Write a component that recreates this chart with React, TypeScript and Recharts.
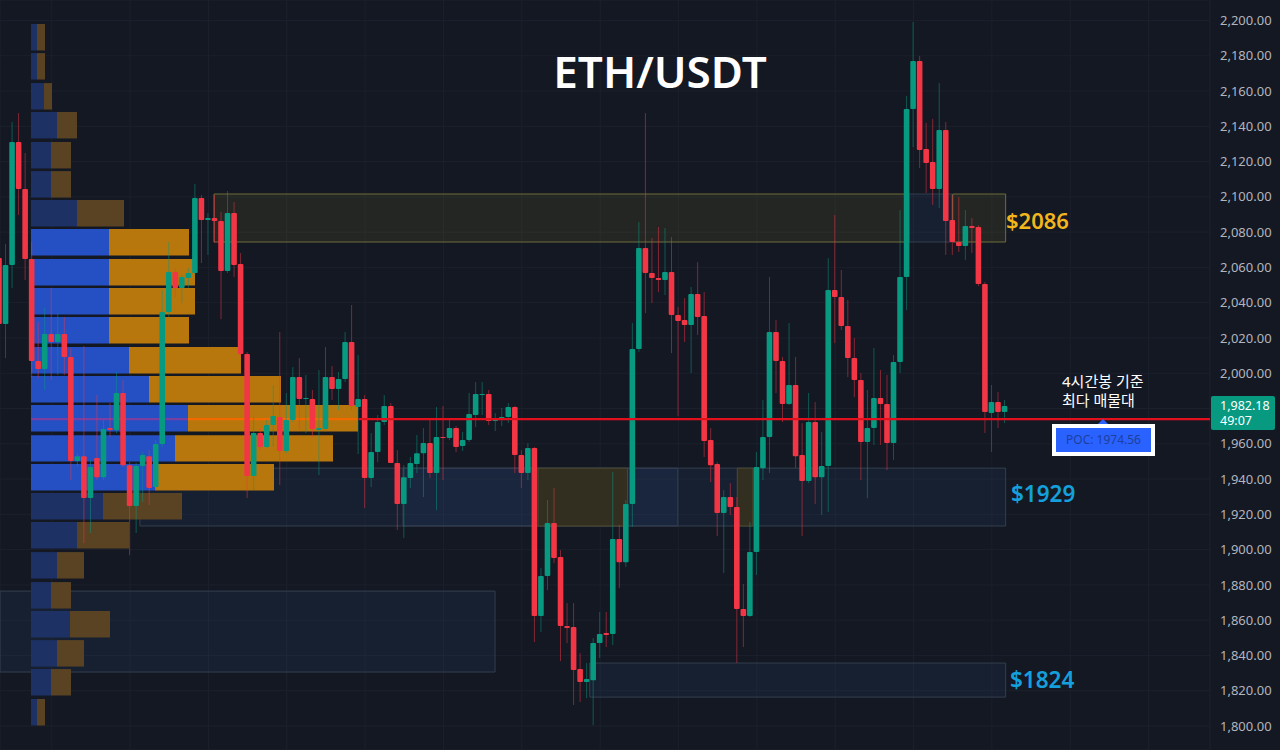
import { Bar, CartesianGrid, ComposedChart, ReferenceArea, ReferenceLine, XAxis, YAxis } from 'recharts';

const opens = [
  2065.3, 2027.9, 2061.3, 2131.1, 2104.4, 2064.7, 2006.9, 2002.4, 2022.2, 2017.7,
  2022.2, 2009.2, 1950.2, 1953, 1929.2, 1951.9, 1941.1, 1968.9, 1967.8, 1988.8,
  1947.9, 1924.7, 1947.4, 1953, 1935.5, 1959.9, 2034.7, 2057.4, 2048.3, 2054,
  2056.8, 2099.3, 2086.9, 2088, 2086.3, 2057.9, 2090.8, 2061.9, 2010.9, 1941.7,
  1966.1, 1958.2, 1970.6, 1975.2, 1955.9, 1973.5, 1997.8, 1985.4, 1985.4, 1967.8,
  1968.4, 1997.8, 1991, 1996.7, 2017.7, 1980.8, 1985.4, 1940.6, 1955.3, 1972.3,
  1981.4, 1949.1, 1925.8, 1940.6, 1948.5, 1954.7, 1960.4, 1943.4, 1963.8, 1963.3,
  1968.9, 1958.7, 1962.1, 1976.3, 1987.6, 1988.2, 1972.9, 1974.6, 1975.2, 1980.8,
  1953.6, 1943.4, 1957.6, 1862.3, 1885, 1915.1, 1895.8, 1856.7, 1856.1, 1832.3,
  1824.9, 1826, 1847, 1852.7, 1852.1, 1906, 1892.9, 1925.8, 2013.7, 2071,
  2056.8, 2054, 2052.8, 2057.4, 2033, 2030.2, 2027.3, 2044.9, 2032.4, 1962.1,
  1948.5, 1920.7, 1929.8, 1924.1, 1866.3, 1862.3, 1898.6, 1946.2, 1963.8, 2023.4,
  2006.9, 1982.5, 1993.3, 1953.6, 1938.9, 1972.3, 1941.1, 1947.4, 2047.2, 2043.2,
  2026.8, 2008.6, 1996.1, 1961, 1968.9, 1985.9, 1982.5, 1960.4, 2006.3, 2054.5,
  2149.8, 2177, 2127.1, 2119.8, 2104.4, 2137.9, 2086.9, 2074.4, 2072.1, 2083.5,
  2082.9, 2050.6, 1977.4, 1983.7, 1978,
];
const closes = [
  2027.9, 2061.3, 2131.1, 2104.4, 2064.7, 2006.9, 2002.4, 2022.2, 2017.7, 2022.2,
  2009.2, 1950.2, 1953, 1929.2, 1946.8, 1941.1, 1968.4, 1967.8, 1988.8, 1947.9,
  1924.7, 1947.4, 1953.6, 1934.9, 1959.9, 2034.7, 2057.4, 2048.3, 2054.5, 2056.8,
  2099.3, 2086.9, 2088, 2086.3, 2057.9, 2090.8, 2061.3, 2010.9, 1941.7, 1966.1,
  1958.2, 1970.6, 1975.7, 1955.9, 1973.5, 1997.8, 1985.4, 1985.9, 1968.4, 1968.9,
  1997.8, 1991, 1996.7, 2017.7, 1981.4, 1985.4, 1940.6, 1955.3, 1972.3, 1981.4,
  1949.1, 1925.8, 1941.1, 1949.1, 1954.7, 1960.4, 1943.4, 1963.8, 1963.3, 1968.9,
  1958.2, 1962.1, 1976.9, 1988.2, 1988.2, 1972.9, 1974.6, 1975.2, 1980.8, 1953.6,
  1943.4, 1957.6, 1862.3, 1885, 1915.1, 1895.2, 1856.7, 1855.5, 1831.7, 1824.9,
  1826.6, 1847, 1852.1, 1851.6, 1906, 1892.9, 1925.8, 2013.7, 2071, 2056.8,
  2054, 2052.8, 2057.4, 2033, 2029.6, 2027.3, 2044.9, 2031.9, 1961.6, 1947.9,
  1920.7, 1929.8, 1924.1, 1866.3, 1862.3, 1898.6, 1946.8, 1963.8, 2023.4, 2006.9,
  1982.5, 1993.3, 1953, 1938.9, 1972.3, 1941.1, 1947.4, 2047.2, 2043.2, 2026.8,
  2008.6, 1996.1, 1961, 1968.9, 1985.9, 1982.5, 1960.4, 2006.3, 2054.5, 2149.8,
  2177, 2126.6, 2119.2, 2104.4, 2137.9, 2086.3, 2074.4, 2072.1, 2083.5, 2082.3,
  2050.6, 1978, 1983.7, 1978, 1981.4,
];
const highs = [
  2069.9, 2073.3, 2142.4, 2147.5, 2124.8, 2074.4, 2029, 2037, 2048.3, 2034.1,
  2031.9, 2014.3, 1954.7, 2015.4, 1950.8, 1987.6, 1973.5, 1983.1, 2000.7, 1996.1,
  1949.6, 1949.1, 1955.3, 1956.4, 1962.1, 2047.2, 2074.4, 2059.6, 2055.7, 2059.6,
  2107.3, 2101, 2090.8, 2101, 2091.4, 2103.3, 2097.1, 2068.1, 2012, 1975.2,
  1968.9, 1973.5, 1993.3, 2023.4, 1988.8, 2003.5, 2008.6, 1999, 1990.5, 2001.8,
  2014.9, 2004.1, 2000.7, 2023.4, 2038.7, 2010.3, 1987.6, 1966.1, 1976.3, 1987.6,
  1983.1, 1956.4, 1947.9, 1952.5, 1965, 1968.9, 1973.5, 1980.8, 1981.4, 1974.6,
  1970.1, 1966.7, 1988.8, 1995, 1995, 1990.5, 1977.4, 1980.3, 1983.1, 1981.4,
  1956.4, 1960.4, 1958.2, 1889.5, 1928.1, 1934.9, 1899.7, 1869.7, 1869.7, 1841.3,
  1835.7, 1849.9, 1864.6, 1864.6, 1944, 1913.9, 1928.1, 2028.5, 2085.7, 2147.5,
  2076.7, 2082.9, 2082.3, 2077.2, 2037.5, 2042.6, 2048.9, 2063, 2046, 1968.9,
  1949.6, 1933.8, 1937.7, 1929.8, 1880.5, 1915.6, 1955.3, 1984.8, 2054.5, 2030.2,
  2009.2, 2028.5, 2009.2, 1971.7, 1988.8, 1983.7, 1966.7, 2065.3, 2089.7, 2058.5,
  2041.5, 2020, 2000.1, 1990.5, 2014.3, 2001.8, 1999, 2010.3, 2092.5, 2157.2,
  2199.1, 2179.8, 2141.9, 2144.1, 2164.5, 2142.4, 2101, 2099.9, 2092.5, 2088,
  2084, 2051.7, 1993.3, 1989.3, 1984.8,
];
const lows = [
  2024.5, 2008.6, 2048.3, 2089.7, 2052.8, 1997.8, 1997.3, 1990.5, 1996.1, 1999,
  1999, 1939.4, 1946.8, 1903.7, 1909.4, 1939.4, 1939.4, 1963.8, 1966.1, 1946.8,
  1896.9, 1909.4, 1927, 1925.3, 1933.8, 1958.2, 2031.9, 2043.2, 2039.8, 2048.3,
  2055.7, 2062.5, 2067, 2073.8, 2030.7, 2056.8, 2054.5, 2009.2, 1929.2, 1933.8,
  1956.4, 1957.6, 1958.2, 1936.6, 1954.7, 1972.3, 1967.8, 1966.1, 1963.8, 1942.3,
  1966.7, 1984.8, 1979.1, 1995, 1979.1, 1954.2, 1923.6, 1935.5, 1949.6, 1970.6,
  1949.1, 1911.1, 1906.6, 1934.9, 1943.4, 1929.8, 1940.6, 1922.4, 1939.4, 1962.1,
  1955.3, 1955.9, 1961, 1969.5, 1976.3, 1970.6, 1967.2, 1970.1, 1971.8, 1943.4,
  1934.9, 1939.4, 1847.6, 1853.3, 1877.1, 1892.4, 1836.8, 1847, 1811.9, 1813.6,
  1815.8, 1800.5, 1838.5, 1844.8, 1845.9, 1878.2, 1890.1, 1912.8, 2012, 2034.1,
  2039.8, 2046, 2044.3, 2011.4, 1975.7, 2017.7, 2000.1, 2021.7, 1952.5, 1938.3,
  1907.7, 1886.7, 1919.6, 1835.7, 1844.8, 1861.8, 1885.6, 1939.4, 1943.4, 1988.8,
  1972.3, 1982, 1946.2, 1907.7, 1937.7, 1925.8, 1919.6, 1921.3, 2017.1, 2024.5,
  1997.8, 1986.5, 1939.4, 1929.2, 1959.3, 1959.3, 1945.1, 1950.8, 2000.1, 2035.8,
  2128.2, 2116.3, 2102.2, 2095.4, 2093.7, 2067, 2067, 2068.7, 2064.2, 2068.1,
  2049.4, 1966.1, 1955.3, 1968.9, 1971.8,
];

// volume profile, one row per price bucket
const volRowTops = [
  2198, 2181.5, 2164.5, 2148.1, 2131.1, 2114.6, 2098.2, 2081.8, 2064.7, 2048.3, 2031.9, 2014.9,
  1998.4, 1982, 1964.9, 1948.5, 1932.1, 1915.6, 1898.6, 1881.6, 1865.2, 1848.7, 1832.3, 1815.3,
];
const volBuy = [6, 6, 13, 26, 20, 20, 46, 78, 78, 78, 78, 98, 118, 157, 144, 124, 72, 46, 26, 20, 39, 26, 20, 6];
const volSell = [8, 8, 8, 20, 20, 20, 47, 80, 86, 86, 80, 112, 132, 170, 158, 119, 79, 52, 27, 20, 40, 27, 20, 8];
const valueAreaRows = [7, 8, 9, 10, 11, 12, 13, 14, 15];
const pocRow = 13;
const pocPrice = 1974;
const lastIndex = 185.4;

const priceTicks = [
  1800, 1820, 1840, 1860, 1880, 1900, 1920, 1940, 1960, 1980, 2000, 2020, 2040, 2060, 2080, 2100, 2120, 2140,
  2160, 2180, 2200,
];
const timeTicks = [8, 20, 32, 44, 56, 68, 80, 92, 104, 116, 128, 140, 152, 164, 176];

const candles = opens.map((open, i) => ({ i, open, close: closes[i], high: highs[i], low: lows[i] }));

// 1,980.00 sits behind the last price tag, so it gets no label
const formatPrice = (v: number) =>
  v === 1980 ? '' : v.toLocaleString('en-US', { minimumFractionDigits: 2, maximumFractionDigits: 2 });

const Candle = ({ x, y, width, height, payload }: any) => {
  const { open, close, high, low } = payload;
  const up = close >= open;
  const color = up ? '#089981' : '#f23645';
  const pxPerUsd = height / (high - low);
  const top = y + (high - Math.max(open, close)) * pxPerUsd;
  const bodyH = Math.max(Math.abs(open - close) * pxPerUsd, 1);
  const cx = x + width / 2;
  return (
    <g>
      <line x1={cx} x2={cx} y1={y} y2={y + height} stroke={color} strokeWidth={1} strokeOpacity={0.5} />
      <rect x={x} y={top} width={width} height={bodyH} rx={1} fill={color} />
    </g>
  );
};

const yellowBox = { fill: '#8a7f2a', fillOpacity: 0.14, stroke: '#6f6d38', strokeOpacity: 1, strokeWidth: 1 };
const yellowInset = { fill: '#332f20', fillOpacity: 1, stroke: '#4c4a30', strokeOpacity: 1, strokeWidth: 1 };
const blueBox = { fill: '#2b4a7a', fillOpacity: 0.16, stroke: '#343f4e', strokeOpacity: 1, strokeWidth: 1 };

export default function App() {
  return (
    <div style={{ position: 'fixed', left: 0, top: 0, width: 1280, height: 750, background: '#141823', overflow: 'hidden', fontFamily: '"Noto Sans", "Noto Sans CJK KR", sans-serif' }}>
      <ComposedChart width={1280} height={750} data={candles} margin={{ top: 0, right: 0, bottom: 0, left: 0 }}>
        <CartesianGrid xAxisId="idx" yAxisId="price" stroke="#1b202c" strokeWidth={1} />
        <XAxis xAxisId="idx" dataKey="i" type="number" domain={[0.08, lastIndex]} allowDataOverflow ticks={timeTicks} hide />
        <XAxis xAxisId="vol" dataKey={() => 0} type="number" domain={[-31, 1179]} allowDataOverflow hide />
        <YAxis
          yAxisId="price"
          orientation="right"
          width={70}
          type="number"
          domain={[1786.4, 2211.6]}
          allowDataOverflow
          ticks={priceTicks}
          interval={0}
          tickFormatter={formatPrice}
          axisLine={false}
          tickLine={false}
          tickSize={0}
          tickMargin={10}
          tick={{ fill: '#b2b5be', fontSize: 13, textAnchor: 'start' }}
        />

        {/* supply and demand zones */}
        <ReferenceArea xAxisId="idx" yAxisId="price" x1={21.5} x2={154.1} y1={1913.4} y2={1946.2} {...blueBox} />
        <ReferenceArea xAxisId="idx" yAxisId="price" x1={61.8} x2={103.9} y1={1913.4} y2={1946.2} {...blueBox} />
        <ReferenceArea xAxisId="idx" yAxisId="price" x1={82.5} x2={96.2} y1={1913.4} y2={1946.2} {...yellowInset} />
        <ReferenceArea xAxisId="idx" yAxisId="price" x1={113} x2={115.4} y1={1913.4} y2={1946.2} {...yellowInset} />
        <ReferenceArea xAxisId="idx" yAxisId="price" x1={32.85} x2={138.7} y1={2074.4} y2={2101.6} {...yellowBox} />
        <ReferenceArea xAxisId="idx" yAxisId="price" x1={139.3} x2={145.9} y1={2074.4} y2={2101.6} {...blueBox} />
        <ReferenceArea xAxisId="idx" yAxisId="price" x1={146} x2={154.1} y1={2074.4} y2={2101.6} {...yellowBox} />
        <ReferenceArea xAxisId="idx" yAxisId="price" x1={90.4} x2={154.1} y1={1816.4} y2={1835.7} {...blueBox} />
        <ReferenceArea xAxisId="idx" yAxisId="price" x1={0.08} x2={75.9} y1={1830.6} y2={1876.5} {...blueBox} />

        {/* volume profile */}
        {volRowTops.map((top, r) => {
          const inValueArea = valueAreaRows.includes(r);
          return [
            <ReferenceArea
              key={`b${r}`}
              xAxisId="vol"
              yAxisId="price"
              x1={0}
              x2={volBuy[r]}
              y1={top - 15}
              y2={top}
              fill={inValueArea ? '#2450c4' : '#1e3165'}
              fillOpacity={1}
            />,
            <ReferenceArea
              key={`s${r}`}
              xAxisId="vol"
              yAxisId="price"
              x1={volBuy[r]}
              x2={volBuy[r] + volSell[r]}
              y1={top - 15}
              y2={top}
              fill={inValueArea ? '#b8770c' : '#5a4323'}
              fillOpacity={1}
            />,
          ];
        })}
        <ReferenceArea
          xAxisId="vol"
          yAxisId="price"
          x1={0}
          x2={volBuy[pocRow]}
          y1={pocPrice - 0.6}
          y2={pocPrice + 0.6}
          fill="#7a3fa0"
          fillOpacity={1}
        />
        <ReferenceArea
          xAxisId="vol"
          yAxisId="price"
          x1={volBuy[pocRow]}
          x2={volBuy[pocRow] + volSell[pocRow]}
          y1={pocPrice - 0.6}
          y2={pocPrice + 0.6}
          fill="#f06a00"
          fillOpacity={1}
        />
        <ReferenceLine
          xAxisId="idx"
          yAxisId="price"
          segment={[{ x: 55, y: pocPrice }, { x: lastIndex, y: pocPrice }]}
          stroke="#e2101c"
          strokeWidth={2.4}
        />

        <Bar
          xAxisId="idx"
          yAxisId="price"
          dataKey={(d: any) => [d.low, d.high]}
          barSize={5.6}
          shape={<Candle />}
          isAnimationActive={false}
        />
      </ComposedChart>

      <div style={{ position: 'absolute', left: 460, width: 400, top: 41, textAlign: 'center', color: '#fff', fontSize: 44, fontWeight: 600, lineHeight: '60px' }}>
        ETH/USDT
      </div>
      <div style={{ position: 'absolute', left: 1006, top: 203, color: '#f2b51c', fontSize: 22, fontWeight: 600, lineHeight: '34px' }}>$2086</div>
      <div style={{ position: 'absolute', left: 1011, top: 477, color: '#14a0dc', fontSize: 22.5, fontWeight: 600, lineHeight: '34px' }}>$1929</div>
      <div style={{ position: 'absolute', left: 1010, top: 663, color: '#14a0dc', fontSize: 22.5, fontWeight: 600, lineHeight: '34px' }}>$1824</div>
      <div style={{ position: 'absolute', left: 1062, top: 372, color: '#fff', fontSize: 15, lineHeight: '19px', whiteSpace: 'nowrap' }}>
        4시간봉 기준
        <br />
        최다 매물대
      </div>
      <div style={{ position: 'absolute', left: 1097, top: 419, width: 0, height: 0, borderLeft: '6px solid transparent', borderRight: '6px solid transparent', borderBottom: '6px solid #2962ff' }} />
      <div style={{ position: 'absolute', left: 1052, top: 424, width: 95, height: 24, border: '4px solid #fff', background: '#2962ff', color: '#1f3f9c', fontSize: 12, lineHeight: '24px', textAlign: 'center' }}>
        POC: 1974.56
      </div>
      <div style={{ position: 'absolute', left: 1211, top: 396, width: 55, height: 32, paddingLeft: 9, paddingTop: 2, background: '#089981', color: '#fff', fontSize: 12.5, lineHeight: '15px', borderRadius: 2 }}>
        1,982.18
        <br />
        49:07
      </div>
    </div>
  );
}
